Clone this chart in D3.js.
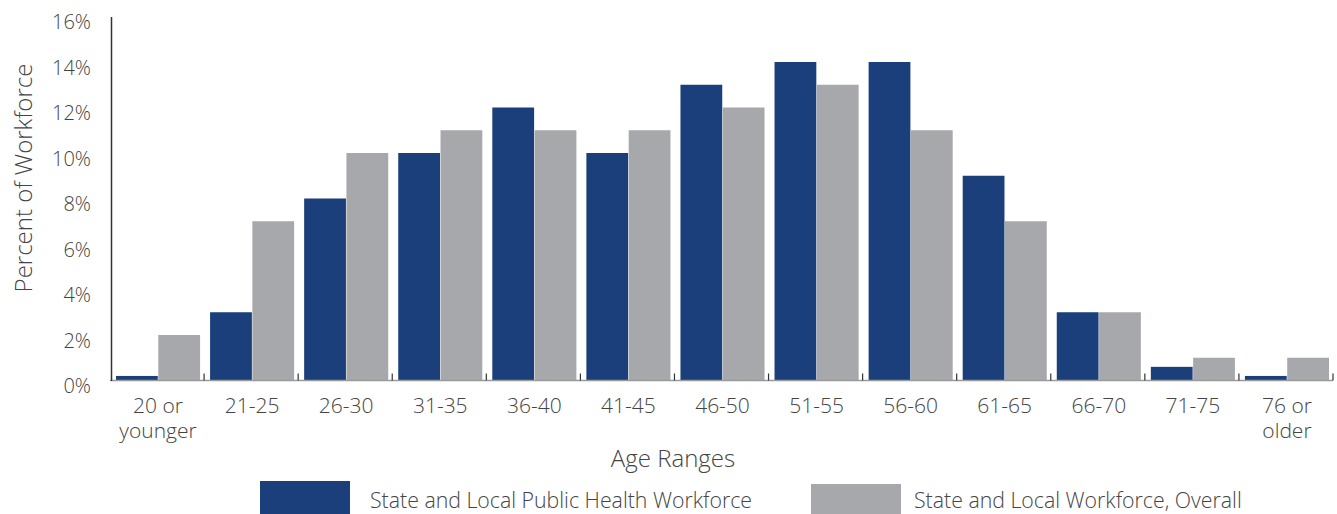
<!DOCTYPE html>
<html>
<head>
<meta charset="utf-8">
<script src="https://cdn.jsdelivr.net/npm/d3@7"></script>
<style>
  body { margin: 0; background: #fff; }
  svg { display: block; font-family: "Open Sans", sans-serif; font-weight: 300; }
</style>
</head>
<body>
<svg id="chart" width="1337" height="514"></svg>
<script>
// Age bands and the share of each workforce that falls into them (%)
const ageRanges = ["20 or\nyounger", "21-25", "26-30", "31-35", "36-40", "41-45", "46-50",
                   "51-55", "56-60", "61-65", "66-70", "71-75", "76 or\nolder"];
const publicHealth = [0.2, 3, 8, 10, 12, 10, 13, 14, 14, 9, 3, 0.6, 0.2];
const overall      = [2, 7, 10, 11, 11, 11, 12, 13, 11, 7, 3, 1, 1];
const yTicks = [0, 2, 4, 6, 8, 10, 12, 14, 16];
const seriesNames = ["State and Local Public Health Workforce", "State and Local Workforce, Overall"];
const colors = ["#1a3f7a", "#a7a8ab"];

const svg = d3.select("#chart");
const plotLeft = 110, plotRight = 1333, plotTop = 16.5, plotBottom = 380.5;

const x = d3.scaleBand().domain(ageRanges).range([plotLeft, plotRight]).paddingInner(0).paddingOuter(0);
const inner = d3.scaleBand().domain([0, 1]).range([6, x.bandwidth() - 4]).paddingInner(0.012);
const y = d3.scaleLinear().domain([0, 16]).range([plotBottom, plotTop]);

// bars
const groups = svg.append("g").selectAll("g").data(ageRanges).join("g")
  .attr("transform", d => `translate(${x(d)},0)`);
groups.selectAll("rect")
  .data((d, i) => [publicHealth[i], overall[i]])
  .join("rect")
  .attr("x", (v, j) => inner(j))
  .attr("width", inner.bandwidth())
  .attr("y", v => y(v))
  .attr("height", v => y(0) - y(v))
  .attr("fill", (v, j) => colors[j]);

// x axis baseline with upward ticks at band edges
svg.append("line").attr("x1", plotLeft).attr("x2", plotRight).attr("y1", plotBottom).attr("y2", plotBottom)
  .attr("stroke", "#9a9a9a").attr("stroke-width", 1.5);
const edges = ageRanges.map(d => x(d) + x.bandwidth());
svg.append("g").selectAll("line").data(edges).join("line")
  .attr("x1", d => d).attr("x2", d => d).attr("y1", plotBottom).attr("y2", plotBottom - 7)
  .attr("stroke", "#333").attr("stroke-width", 1.2);

// y axis
const yAxis = d3.axisLeft(y).tickValues(yTicks).tickFormat(d => d + "%").tickSize(0).tickPadding(20);
const yg = svg.append("g").attr("transform", `translate(${plotLeft + 1},0)`).call(yAxis);
yg.select(".domain").attr("stroke", "#333").attr("stroke-width", 1.5);
yg.selectAll("text").attr("font-size", 20).attr("fill", "#444").attr("font-family", "Open Sans")
  .attr("font-weight", 300).attr("dy", "0.62em");

// category labels
const xl = svg.append("g").selectAll("text").data(ageRanges).join("text")
  .attr("x", d => x(d) + x.bandwidth() / 2 + 1)
  .attr("y", 413)
  .attr("text-anchor", "middle").attr("font-size", 21).attr("fill", "#444");
xl.selectAll("tspan").data(d => d.split("\n")).join("tspan")
  .attr("x", function() { return this.parentNode.getAttribute("x"); })
  .attr("dy", (t, i) => i === 0 ? 0 : 25)
  .text(t => t);

// axis titles
svg.append("text").attr("x", 673).attr("y", 467).attr("text-anchor", "middle")
  .attr("font-size", 24).attr("fill", "#444").text("Age Ranges");
svg.append("text").attr("transform", "translate(32,178) rotate(-90)").attr("text-anchor", "middle")
  .attr("font-size", 24).attr("fill", "#444").text("Percent of Workforce");

// legend
const legendX = [260, 811], textX = [370, 914];
const legend = svg.append("g");
legend.selectAll("rect").data(seriesNames).join("rect")
  .attr("x", (d, i) => legendX[i]).attr("y", (d, i) => i === 0 ? 481 : 484)
  .attr("width", 90).attr("height", (d, i) => i === 0 ? 33 : 30)
  .attr("fill", (d, i) => colors[i]);
legend.selectAll("text").data(seriesNames).join("text")
  .attr("x", (d, i) => textX[i]).attr("y", 508)
  .attr("font-size", 21.3).attr("fill", "#444").text(d => d);
</script>
</body>
</html>
